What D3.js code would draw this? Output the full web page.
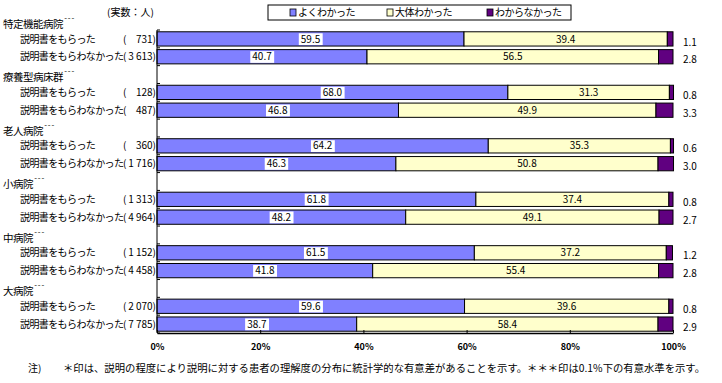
<!DOCTYPE html>
<html>
<head>
<meta charset="utf-8">
<script src="https://cdn.jsdelivr.net/npm/d3@7"></script>
<style>
  body { margin: 0; background: #fff; }
  svg text { font-family: "Noto Sans CJK JP", "Noto Sans", sans-serif; fill: #000; }
</style>
</head>
<body>
<div id="chart"></div>
<script>
// 病院種別ごとの「説明書の有無」別 理解度 (%)
var groups = ["特定機能病院", "療養型病床群", "老人病院", "小病院", "中病院", "大病院"];
var rowTypes = ["説明書をもらった", "説明書をもらわなかった"];
var counts = ["731", "3 613", "128", "487", "360", "1 716", "1 313", "4 964", "1 152", "4 458", "2 070", "7 785"];
var seriesNames = ["よくわかった", "大体わかった", "わからなかった"];
var good = [59.5, 40.7, 68.0, 46.8, 64.2, 46.3, 61.8, 48.2, 61.5, 41.8, 59.6, 38.7];
var fair = [39.4, 56.5, 31.3, 49.9, 35.3, 50.8, 37.4, 49.1, 37.2, 55.4, 39.6, 58.4];
var poor = [1.1, 2.8, 0.8, 3.3, 0.6, 3.0, 0.8, 2.7, 1.2, 2.8, 0.8, 2.9];
var xTicks = [0, 20, 40, 60, 80, 100];
var unitLabel = "(実数：人)";
var noteHead = "注)";
var noteText = "＊印は、説明の程度により説明に対する患者の理解度の分布に統計学的な有意差があることを示す。＊＊＊印は0.1%下の有意水準を示す。";

var colors = ["#8080ff", "#ffffcc", "#600080"];

var width = 722, height = 383;
var margin = {top: 30, left: 157, right: 49, bottom: 50};

var svg = d3.select("#chart").append("svg")
    .attr("width", width)
    .attr("height", height);

// category slots: 2 bars per group, blank slot between groups
var slots = [];
groups.forEach(function(g, gi) {
  if (gi > 0) slots.push("gap" + gi);
  rowTypes.forEach(function(r, ri) { slots.push(gi + "-" + ri); });
});

var rows = [];
groups.forEach(function(g, gi) {
  rowTypes.forEach(function(r, ri) {
    var i = gi * 2 + ri;
    rows.push({key: gi + "-" + ri, group: gi, type: ri, count: counts[i],
               vals: [good[i], fair[i], poor[i]]});
  });
});

var x = d3.scaleLinear().domain([0, 100]).range([margin.left, width - margin.right]);
var y = d3.scaleBand().domain(slots).range([margin.top, height - margin.bottom])
    .paddingInner(0.2).paddingOuter(0.1);

// bars
var rowG = svg.selectAll(".row").data(rows).enter().append("g").attr("class", "row");

rowG.each(function(d) {
  var g = d3.select(this);
  var start = 0;
  d.vals.forEach(function(v, si) {
    g.append("rect")
      .attr("x", x(start))
      .attr("y", y(d.key))
      .attr("width", x(start + v) - x(start))
      .attr("height", y.bandwidth())
      .attr("fill", colors[si])
      .attr("stroke", "#000")
      .attr("stroke-width", 1);
    var cx = (x(start) + x(start + v)) / 2;
    var cy = y(d.key) + y.bandwidth() / 2;
    if (si === 0) {
      var t = g.append("text")
        .attr("x", cx).attr("y", cy).attr("dy", "0.36em")
        .attr("text-anchor", "middle")
        .attr("font-size", 10)
        .text(v.toFixed(1));
      var bb = t.node().getBBox();
      g.insert("rect", function() { return t.node(); })
        .attr("x", bb.x - 2).attr("y", y(d.key) + 1.5)
        .attr("width", bb.width + 4).attr("height", y.bandwidth() - 2.5)
        .attr("fill", "#fff");
    } else if (si === 1) {
      g.append("text")
        .attr("x", cx).attr("y", cy).attr("dy", "0.36em")
        .attr("text-anchor", "middle")
        .attr("font-size", 10)
        .text(v.toFixed(1));
    } else {
      g.append("text")
        .attr("x", width - margin.right + 10).attr("y", cy + 3).attr("dy", "0.36em")
        .attr("font-size", 10)
        .text(v.toFixed(1));
    }
    start += v;
  });
});

// row labels
rowG.append("text")
  .attr("x", 20)
  .attr("y", function(d) { return y(d.key) + y.bandwidth() / 2; })
  .attr("dy", "0.36em")
  .attr("font-size", 10)
  .attr("letter-spacing", "-0.6px")
  .text(function(d) { return rowTypes[d.type]; });

rowG.append("text")
  .attr("x", 123)
  .attr("y", function(d) { return y(d.key) + y.bandwidth() / 2; })
  .attr("dy", "0.36em")
  .attr("font-size", 10)
  .text("(");

rowG.append("text")
  .attr("x", margin.left - 1)
  .attr("y", function(d) { return y(d.key) + y.bandwidth() / 2; })
  .attr("dy", "0.36em")
  .attr("text-anchor", "end")
  .attr("font-size", 10)
  .text(function(d) { return d.count + ")"; });

// group labels with significance marks
var grpLab = svg.selectAll(".grp").data(groups).enter().append("text")
  .attr("class", "grp")
  .attr("x", 3)
  .attr("y", function(d, i) { return y(i + "-0") - 4; })
  .attr("font-size", 10.5)
  .attr("letter-spacing", "-0.5px");
grpLab.append("tspan").text(function(d) { return d; });
grpLab.append("tspan").attr("dy", -7).attr("font-size", 8).text("  - - -");

// axes
var yTickPos = slots.map(function(s) { return y(s) - y.step() * 0.1; });
yTickPos.push(height - margin.bottom);
svg.append("line")
  .attr("x1", margin.left).attr("x2", margin.left)
  .attr("y1", margin.top).attr("y2", height - margin.bottom)
  .attr("stroke", "#000");
svg.selectAll(".ytick").data(yTickPos).enter().append("line")
  .attr("x1", margin.left).attr("x2", margin.left + 3)
  .attr("y1", function(d) { return d; }).attr("y2", function(d) { return d; })
  .attr("stroke", "#000");

var xAxis = svg.append("g")
  .attr("transform", "translate(0," + (height - margin.bottom) + ")")
  .call(d3.axisBottom(x).tickValues(xTicks).tickSizeInner(-3).tickSizeOuter(0).tickPadding(11)
        .tickFormat(function(d) { return d + "%"; }));
xAxis.select(".domain").attr("stroke", "#000").attr("stroke-width", 1.5);
xAxis.selectAll("text").attr("font-size", 9).attr("font-weight", "bold")
  .attr("font-family", "\"Noto Sans CJK JP\", sans-serif");

// legend
var legend = svg.append("g");
legend.append("rect")
  .attr("x", 268).attr("y", 5).attr("width", 303).attr("height", 15)
  .attr("fill", "#fff").attr("stroke", "#000");
var legX = [290, 387, 487];
seriesNames.forEach(function(n, i) {
  legend.append("rect")
    .attr("x", legX[i]).attr("y", 9).attr("width", 6).attr("height", 7)
    .attr("fill", colors[i]).attr("stroke", "#000").attr("stroke-width", 0.8);
  legend.append("text")
    .attr("x", legX[i] + 8).attr("y", 12.5).attr("dy", "0.36em")
    .attr("font-size", 10).attr("letter-spacing", "-0.5px")
    .text(n);
});

svg.append("text")
  .attr("x", 107).attr("y", 12.5).attr("dy", "0.36em")
  .attr("font-size", 10)
  .text(unitLabel);

// note
svg.append("text")
  .attr("x", 28).attr("y", 368).attr("dy", "0.36em")
  .attr("font-size", 10)
  .text(noteHead);
svg.append("text")
  .attr("x", 63).attr("y", 368).attr("dy", "0.36em")
  .attr("font-size", 10)
  .attr("textLength", 642).attr("lengthAdjust", "spacingAndGlyphs")
  .text(noteText);
</script>
</body>
</html>
